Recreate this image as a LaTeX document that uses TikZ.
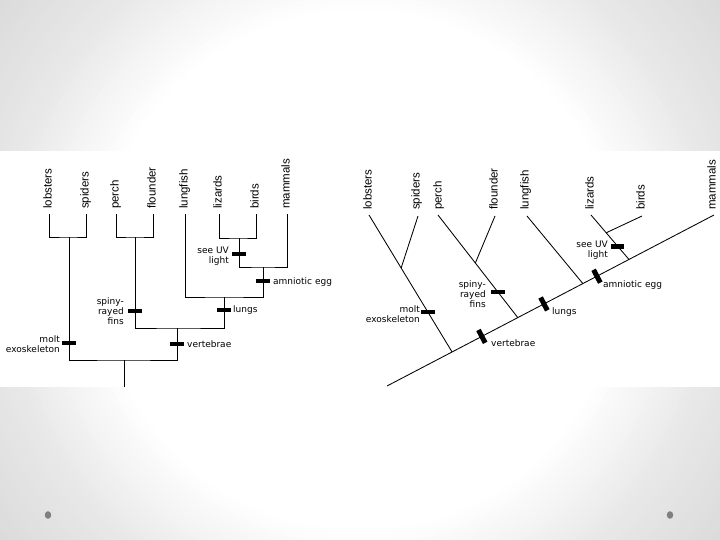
\documentclass[tikz,border=0pt]{standalone}
\usepackage{fontspec}
\setmainfont{Liberation Sans}
\newfontfamily\annfont{DejaVu Sans}
\usetikzlibrary{calc}
\begin{document}
\begin{tikzpicture}[x=1pt,y=-1pt,
  taxon/.style={rotate=90, anchor=mid west, inner sep=0pt, font=\fontsize{11.5}{12}\selectfont},
  ann/.style={inner sep=0pt, font=\annfont\fontsize{9}{10}\selectfont},
  hbar/.style={fill=black, minimum width=13.5pt, minimum height=4.8pt, inner sep=0pt},
  mbar/.style={fill=black, minimum width=5pt, minimum height=14.5pt, inner sep=0pt, rotate=27.6},
  branch/.style={line width=0.85pt, draw=black}]
\useasboundingbox (0,0) rectangle (720,540);
\begin{scope}
  \clip (0,0) rectangle (720,540);
  \fill[black!15] (0,0) rectangle (720,540);
  \foreach \r in {470,465,...,250}{
    \pgfmathsetmacro{\g}{\r>=360 ? 9+(\r-360)/90*5 : max(0,(\r-260)/100*9)}
    \fill[black!\g] (360,270) circle[radius=\r pt];
  }
\end{scope}
\fill[white] (0,151) rectangle (720,387);
\fill[black!50] (48,515) ellipse [x radius=3.2pt, y radius=3.8pt];
\fill[black!50] (670,515) ellipse [x radius=3.2pt, y radius=3.8pt];

% ---------------- left tree ----------------
\node[taxon] (tLlob) at (49,209) {lobsters};
\node[taxon] (tLspi) at (86,209) {spiders};
\node[taxon] (tLper) at (116,209) {perch};
\node[taxon] (tLflo) at (153,209) {flounder};
\node[taxon] (tLlun) at (185,209) {lungfish};
\node[taxon] (tLliz) at (219,209) {lizards};
\node[taxon] (tLbir) at (256,209) {birds};
\node[taxon] (tLmam) at (287,209) {mammals};

\coordinate (Llob) at (49,214);
\coordinate (Lspi) at (86,214);
\coordinate (Lper) at (116,214);
\coordinate (Lflo) at (153,214);
\coordinate (Llun) at (185,214);
\coordinate (Lliz) at (219,214);
\coordinate (Lbir) at (256,214);
\coordinate (Lmam) at (287,214);
\coordinate (Lls) at (69,237);
\coordinate (Lpf) at (135,237);
\coordinate (Llb) at (239,238);
\coordinate (Lam) at (263,267);
\coordinate (Lln) at (224,297);
\coordinate (Lvt) at (177,328);
\coordinate (Lrt) at (124,360);
\coordinate (Lbase) at (124,387);

\draw[branch] (Llob) |- (Lls) -| (Lspi);
\draw[branch] (Lper) |- (Lpf) -| (Lflo);
\draw[branch] (Lliz) |- (Llb) -| (Lbir);
\draw[branch] (Llb) |- (Lam) -| (Lmam);
\draw[branch] (Llun) |- (Lln) -| (Lam);
\draw[branch] (Lpf) |- (Lvt) -| (Lln);
\draw[branch] (Lls) |- (Lrt) -| (Lvt);
\draw[branch] (Lrt) -- (Lbase);

\node[hbar] (bLmolt) at (69,343) {};
\node[hbar] (bLfins) at (135,311) {};
\node[hbar] (bLvert) at (177,344) {};
\node[hbar] (bLlung) at (224,310) {};
\node[hbar] (bLuv) at (239,254) {};
\node[hbar] (bLegg) at (263,281) {};

\node[ann, anchor=east, align=right] (aLmolt) at (60,344) {molt\\exoskeleton};
\node[ann, anchor=east, align=right] (aLfins) at (124,311.5) {spiny-\\rayed\\fins};
\node[ann, anchor=west] (aLvert) at (187,344) {vertebrae};
\node[ann, anchor=west] (aLlung) at (233,310.5) {lungs};
\node[ann, anchor=east, align=right] (aLuv) at (229,256.5) {see UV\\light};
\node[ann, anchor=west] (aLegg) at (273,282) {amniotic egg};

% ---------------- right tree ----------------
\node[taxon] (tRlob) at (369,210) {lobsters};
\node[taxon] (tRspi) at (417,210) {spiders};
\node[taxon] (tRper) at (439,210) {perch};
\node[taxon] (tRflo) at (495,210) {flounder};
\node[taxon] (tRlun) at (526,210) {lungfish};
\node[taxon] (tRliz) at (591,210) {lizards};
\node[taxon] (tRbir) at (642,210) {birds};
\node[taxon] (tRmam) at (713,210) {mammals};

\coordinate (R0) at (387,386);
\coordinate (Rmam) at (714,215);
\coordinate (Rlob) at (369,215);
\coordinate (Rspi) at (418,216);
\coordinate (Rper) at (438,215);
\coordinate (Rflo) at (495,216);
\coordinate (Rlun) at (527,216);
\coordinate (Rliz) at (591,215);
\coordinate (Rbir) at (642,216);

\coordinate (J1) at ($(R0)!0.199!(Rmam)$);
\coordinate (J2) at ($(R0)!0.400!(Rmam)$);
\coordinate (J3) at ($(R0)!0.599!(Rmam)$);
\coordinate (J4) at ($(R0)!0.740!(Rmam)$);
\coordinate (K1) at ($(Rlob)!0.387!(J1)$);
\coordinate (K2) at ($(Rper)!0.468!(J2)$);
\coordinate (K4) at ($(Rliz)!0.400!(J4)$);

\draw[branch] (R0) -- (Rmam);
\draw[branch] (Rlob) -- (J1);
\draw[branch] (Rspi) -- (K1);
\draw[branch] (Rper) -- (J2);
\draw[branch] (Rflo) -- (K2);
\draw[branch] (Rlun) -- (J3);
\draw[branch] (Rliz) -- (J4);
\draw[branch] (Rbir) -- (K4);

\node[hbar] (bRmolt) at ($(Rlob)!0.708!(J1)$) {};
\node[hbar] (bRfins) at ($(Rper)!0.750!(J2)$) {};
\node[hbar] (bRuv) at ($(Rliz)!0.700!(J4)$) {};
\node[mbar] (bRvert) at ($(R0)!0.290!(Rmam)$) {};
\node[mbar] (bRlung) at ($(R0)!0.480!(Rmam)$) {};
\node[mbar] (bRegg) at ($(R0)!0.642!(Rmam)$) {};

\node[ann, anchor=east, align=right] (aRmolt) at (420,314) {molt\\exoskeleton};
\node[ann, anchor=east, align=right] (aRfins) at (486,294) {spiny-\\rayed\\fins};
\node[ann, anchor=west] (aRvert) at (491,343) {vertebrae};
\node[ann, anchor=west] (aRlung) at (552,312) {lungs};
\node[ann, anchor=east, align=right] (aRuv) at (608,250) {see UV\\light};
\node[ann, anchor=west] (aRegg) at (603,285) {amniotic egg};
\end{tikzpicture}
\end{document}
